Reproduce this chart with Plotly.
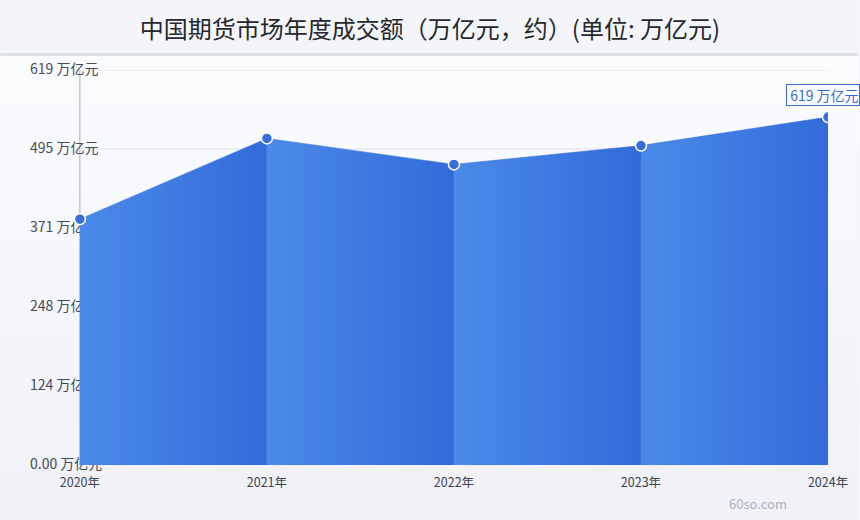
import plotly.graph_objects as go

# data
years = [2020, 2021, 2022, 2023, 2024]
year_labels = ["2020年", "2021年", "2022年", "2023年", "2024年"]
turnover = [437.53, 581.20, 534.93, 568.51, 619.26]  # 万亿元
y_tick_text = ["0.00 万亿元", "124 万亿元", "248 万亿元", "371 万亿元", "495 万亿元", "619 万亿元"]

W, H = 860, 520
L, R, T, B = 30, 30, 70, 55
y_max = 703
y_ticks = [y_max * i / 5 for i in range(6)]
x_left = 2020 - 50 / 187.5  # room for the y labels inside the plot area

FONT = "Noto Sans CJK SC"


def px_x(px):
    return (px - L) / (W - L - R)


def px_y(py):
    return (H - py - B) / (H - T - B)


fig = go.Figure()

# y labels first so the area covers them like in the original
fig.add_trace(go.Scatter(
    x=[x_left] * len(y_ticks), y=y_ticks, mode="text",
    text=y_tick_text, textposition="middle right",
    textfont=dict(family=FONT, size=14, color="#464a55"),
    cliponaxis=False, hoverinfo="skip", showlegend=False,
))

# one area per segment, each with its own left-to-right gradient
for i in range(len(years) - 1):
    fig.add_trace(go.Scatter(
        x=years[i:i + 2], y=turnover[i:i + 2],
        mode="lines", fill="tozeroy",
        line=dict(width=0.6, color="#3b74dd"),
        fillgradient=dict(type="horizontal",
                          colorscale=[[0, "#4b8ae8"], [1, "#326bd9"]]),
        hoverinfo="skip", showlegend=False,
    ))

fig.add_trace(go.Scatter(
    x=years, y=turnover, mode="markers",
    marker=dict(size=11, color="#3a6fd9", line=dict(width=1.5, color="white")),
    showlegend=False,
))

shapes = []
# background bands (soft vertical gradient) below the header
bands = ["#fafbfd", "#f9fafd", "#f8f9fc", "#f7f8fb", "#f6f7fb", "#f5f6fa", "#f4f5f9", "#f2f4f9", "#f1f3f8", "#f0f2f8"]
top, bot = 56, H
step = (bot - top) / len(bands)
for k, c in enumerate(bands):
    shapes.append(dict(type="rect", xref="paper", yref="paper", x0=px_x(0), x1=px_x(W),
                       y0=px_y(top + (k + 1) * step + 1), y1=px_y(top + k * step),
                       fillcolor=c, line_width=0, layer="below"))
# header band and its rule
shapes.append(dict(type="rect", xref="paper", yref="paper", x0=px_x(0), x1=px_x(W),
                   y0=px_y(53), y1=px_y(0), fillcolor="#f4f5f8", line_width=0, layer="below"))
shapes.append(dict(type="rect", xref="paper", yref="paper", x0=px_x(0), x1=px_x(W),
                   y0=px_y(56), y1=px_y(53), fillcolor="#dfe2ea", line_width=0, layer="below"))
for v in y_ticks[1:]:
    shapes.append(dict(type="line", x0=2020, x1=2024, y0=v, y1=v,
                       line=dict(color="#dfe3ea", width=1), layer="below"))
shapes.append(dict(type="line", x0=2020, x1=2020, y0=0, y1=y_max,
                   line=dict(color="#a9b0bd", width=1), layer="below"))
shapes.append(dict(type="line", x0=2020, x1=2024.03, y0=0, y1=0,
                   line=dict(color="#b8bec9", width=1), layer="below"))

fig.update_layout(
    width=W, height=H,
    margin=dict(l=L, r=R, t=T, b=B),
    paper_bgcolor="#f5f7fb", plot_bgcolor="rgba(0,0,0,0)",
    title=dict(text="中国期货市场年度成交额（万亿元，约）(单位: 万亿元)",
               x=0.5, xanchor="center", y=1 - 30 / H, yanchor="middle",
               font=dict(family=FONT, size=24, color="#26282e")),
    font=dict(family=FONT),
    shapes=shapes,
    xaxis=dict(range=[x_left, 2024], tickvals=years, ticktext=year_labels,
               showgrid=False, zeroline=False, showline=False, ticks="",
               ticklabelstandoff=8,
               tickfont=dict(family=FONT, size=12.5, color="#3d414b")),
    yaxis=dict(range=[0, y_max], showgrid=False, zeroline=False,
               showticklabels=False, showline=False),
    annotations=[
        dict(x=2024, y=turnover[-1], text="&nbsp;619 万亿元", showarrow=False,
             xanchor="left", yanchor="bottom", xshift=-42, yshift=11,
             font=dict(family=FONT, size=14, color="#3a6cc8"),
             bgcolor="#fafbff", bordercolor="#3a6cc8", borderwidth=1, borderpad=0),
        dict(x=px_x(760), y=px_y(503), xref="paper", yref="paper", text="60so.com",
             showarrow=False, xanchor="center", yanchor="middle",
             font=dict(family=FONT, size=13, color="#a9b0c0")),
    ],
)

fig.write_html("out.html", config={"displayModeBar": False},
               post_script="document.body.style.margin='0';")
